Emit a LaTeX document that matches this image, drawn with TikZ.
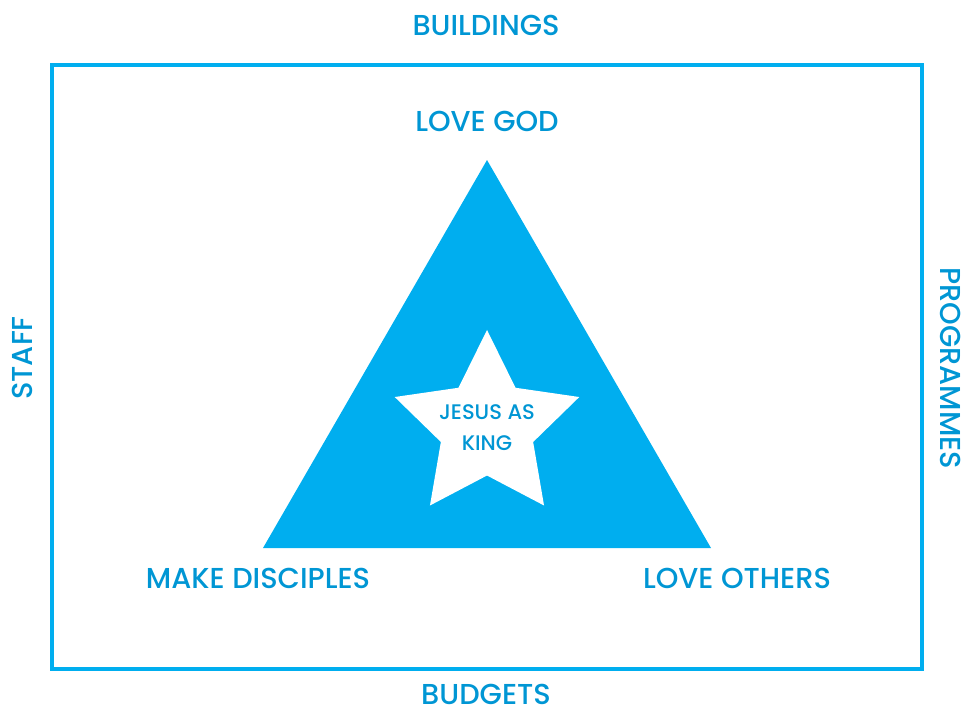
\documentclass[tikz,border=0pt]{standalone}
\usepackage{fontspec}
\setmainfont{Poppins Medium}
\usepackage{tikz}
\usetikzlibrary{shapes,positioning}
\usepackage{xcolor}
\definecolor{kgblue}{RGB}{0,174,239}
\definecolor{kgtext}{RGB}{0,150,212}
\tikzstyle{frame} = [draw=kgblue, line width=2.8pt]
\tikzstyle{label} = [text=kgtext, font=\fontsize{20.5}{23}\selectfont, inner sep=0pt]
\tikzstyle{kingtext} = [text=kgtext, font=\fontsize{15}{22}\selectfont, align=center, inner sep=0pt]

\begin{document}
\begin{tikzpicture}[x=0.025cm, y=-0.025cm]
\useasboundingbox (0,0) rectangle (965,709);
% Outer frame
\node[frame, rectangle, minimum width=21.75cm, minimum height=15.1cm, inner sep=0pt] (box) at (487,367) {};

% Triangle with the star
\node[regular polygon, regular polygon sides=3, fill=kgblue, minimum size=12.93cm, inner sep=0pt] (tri) at (487,418.7) {};
\node[star, star points=5, star point ratio=2, fill=white, minimum size=4.85cm, inner sep=0pt] (king) at (487,427) {};
\node[kingtext] (kinglabel) at (487,428) {JESUS AS\\KING};

% Labels round the triangle
\node[label] (lovegod) at (487,121) {LOVE GOD};
\node[label] (makedisc) at (258,578) {MAKE DISCIPLES};
\node[label] (loveothers) at (737,578) {LOVE OTHERS};

% Labels round the frame
\node[label] (buildings) at (486,25) {BUILDINGS};
\node[label] (budgets) at (486,694) {BUDGETS};
\node[label, rotate=90] (staff) at (22,358) {STAFF};
\node[label, rotate=-90] (programmes) at (951,368) {PROGRAMMES};
\end{tikzpicture}
\end{document}
